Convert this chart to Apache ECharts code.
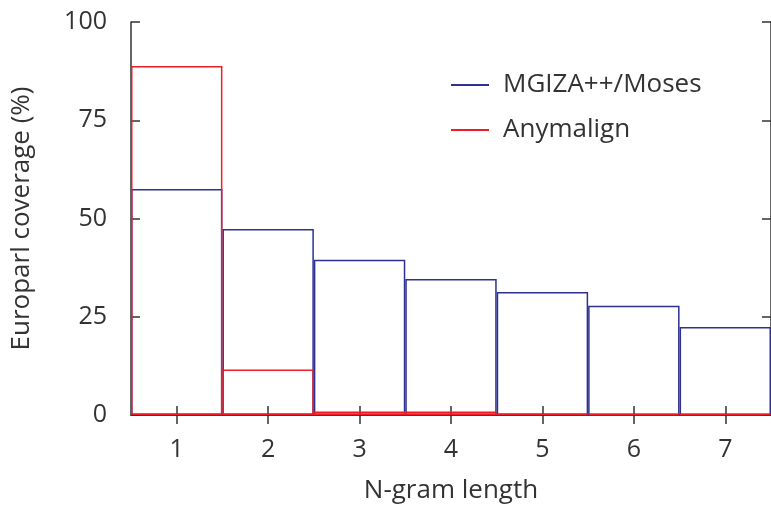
<!DOCTYPE html>
<html><head><meta charset="utf-8">
<script src="https://cdn.jsdelivr.net/npm/echarts@6/dist/echarts.min.js"></script>
<style>html,body{margin:0;padding:0;background:#fff}#c{width:771px;height:509px}</style>
</head><body><div id="c"></div>
<script>
const categories = ['1','2','3','4','5','6','7'];
const mgiza = [57.5, 47.3, 39.5, 34.6, 31.3, 27.8, 22.4];
const anymalign = [88.8, 11.6, 0.9, 0.9, 0.4, 0.3, 0.2];
const yTicks = [0, 25, 50, 75, 100];

const FONT = '"Open Sans"';
const TXT = '#333';
const AX = '#333';
const BLUE = '#2e3192';
const RED = '#ee1c24';

const chart = echarts.init(document.getElementById('c'), null, {renderer:'canvas'});
const axisBase = {
  axisLine:{show:true, lineStyle:{color:AX, width:1.5}},
  axisTick:{show:true, inside:true, length:9, lineStyle:{color:AX, width:1.5}},
  splitLine:{show:false}
};
const xTick = {show:true, inside:true, length:9, alignWithLabel:true, lineStyle:{color:AX, width:1.5}};
chart.setOption({
  animation:false,
  grid:{left:131, top:22, width:642, height:396, containLabel:false},
  legend:{
    orient:'vertical', left:446, top:67, itemGap:19,
    itemWidth:38, itemHeight:2, icon:'rect',
    textStyle:{fontFamily:FONT, fontSize:26, lineHeight:26, color:TXT, padding:[0,0,0,9]},
    data:[
      {name:'MGIZA++/Moses', itemStyle:{color:BLUE, borderWidth:0}},
      {name:'Anymalign', itemStyle:{color:RED, borderWidth:0}}
    ]
  },
  xAxis:[
    Object.assign({type:'category', data:categories, boundaryGap:true,
      axisLabel:{fontFamily:FONT, fontSize:25, color:TXT, margin:22},
      name:'N-gram length', nameLocation:'middle', nameGap:63,
      nameTextStyle:{fontFamily:FONT, fontSize:26, color:TXT}}, axisBase, {axisTick:xTick}),
    Object.assign({type:'category', data:categories, boundaryGap:true, position:'top',
      axisLabel:{show:false}}, axisBase, {axisTick:xTick})
  ],
  yAxis:[
    Object.assign({type:'value', min:yTicks[0], max:yTicks[yTicks.length-1], interval:25,
      axisLabel:{fontFamily:FONT, fontSize:25, color:TXT, margin:24},
      name:'Europarl coverage (%)', nameLocation:'middle', nameGap:96,
      nameTextStyle:{fontFamily:FONT, fontSize:26, color:TXT}}, axisBase),
    Object.assign({type:'value', min:yTicks[0], max:yTicks[yTicks.length-1], interval:25,
      position:'right', axisLabel:{show:false}}, axisBase)
  ],
  series:[
    {name:'MGIZA++/Moses', type:'bar', data:mgiza, barWidth:'100%', barGap:'-100%',
      itemStyle:{color:'rgba(0,0,0,0)', borderColor:BLUE, borderWidth:1.5}},
    {name:'Anymalign', type:'bar', data:anymalign, barWidth:'100%', barGap:'-100%',
      itemStyle:{color:'rgba(0,0,0,0)', borderColor:RED, borderWidth:1.5}}
  ]
});
</script></body></html>
